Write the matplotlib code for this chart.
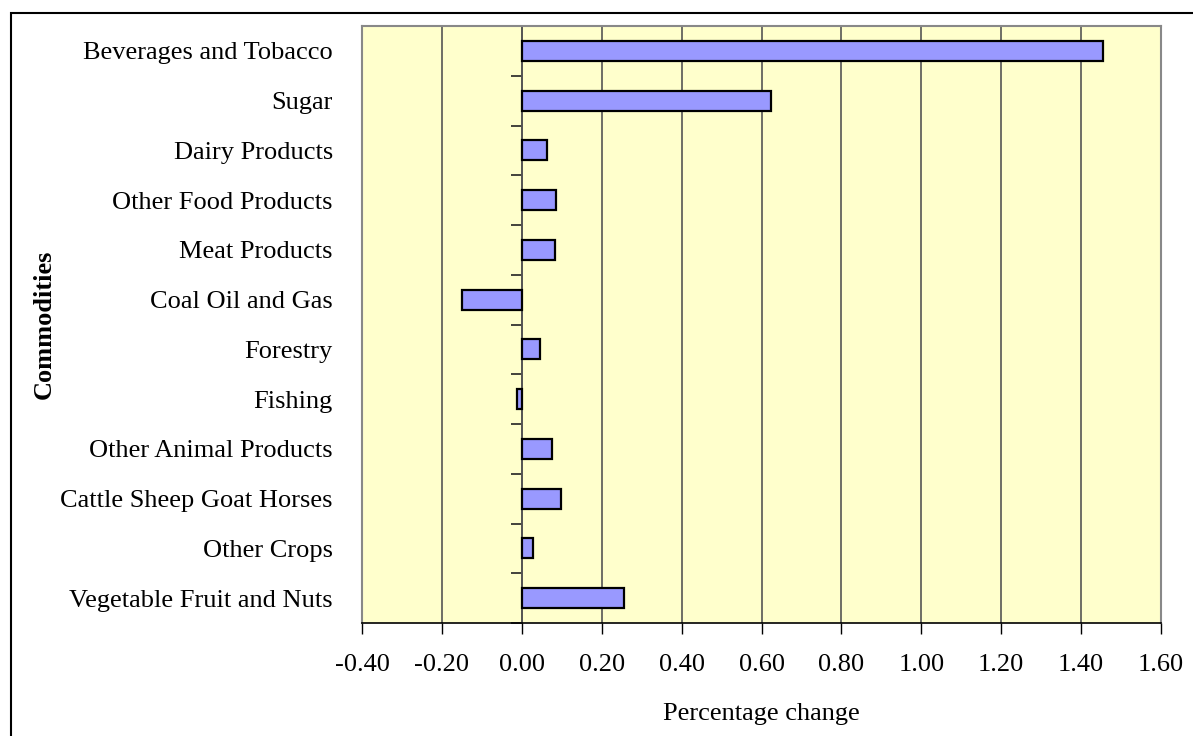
import numpy as np
import matplotlib.pyplot as plt
from matplotlib.patches import Rectangle

# categories listed bottom to top, as drawn on the value axis
commodities = [
    "Vegetable Fruit and Nuts",
    "Other Crops",
    "Cattle Sheep Goat Horses",
    "Other Animal Products",
    "Fishing",
    "Forestry",
    "Coal Oil and Gas",
    "Meat Products",
    "Other Food Products",
    "Dairy Products",
    "Sugar",
    "Beverages and Tobacco",
]
pct_change = [0.256, 0.028, 0.098, 0.076, -0.012, 0.045,
               -0.150, 0.082, 0.085, 0.064, 0.625, 1.455]
x_ticks = [-0.4, -0.2, 0.0, 0.2, 0.4, 0.6, 0.8, 1.0, 1.2, 1.4, 1.6]

plt.rcParams['font.family'] = ['Liberation Serif', 'DejaVu Serif']
FS = 19

fig = plt.figure(figsize=(11.93, 7.36), dpi=100)
ax = fig.add_axes([362 / 1193, 1 - 623 / 736, (1161 - 362) / 1193, (623 - 26) / 736])
ax.set_facecolor('#FFFFCC')

ypos = np.arange(len(commodities))
ax.barh(ypos, pct_change, height=0.4, color='#9999FF', edgecolor='black',
        linewidth=1.6, zorder=3)

ax.set_xlim(-0.4, 1.6)
ax.set_ylim(-0.5, len(commodities) - 0.5)
ax.set_xticks(x_ticks)
ax.set_xticklabels([f"{v:.2f}" for v in x_ticks], fontsize=FS)
ax.tick_params(axis='x', direction='out', length=8, width=1, pad=14, colors='black')
ax.xaxis.grid(True, color='#555555', linewidth=1.2, zorder=1)

ax.set_yticks(ypos)
ax.set_yticklabels(commodities, fontsize=FS)
ax.tick_params(axis='y', length=0, pad=21)
for lbl in ax.get_yticklabels():
    lbl.set_y(lbl.get_position()[1])

for side in ['top', 'right', 'left']:
    ax.spines[side].set_color('#888888')
    ax.spines[side].set_linewidth(1.5)
ax.spines['bottom'].set_color('black')
ax.spines['bottom'].set_linewidth(1.2)

# value axis crossing at zero with category separator ticks
sec = ax.secondary_yaxis(0.0, transform=ax.transData)
sec.set_yticks(np.arange(len(commodities) + 1) - 0.5)
sec.set_yticklabels([])
sec.tick_params(axis='y', direction='out', length=8, width=1.2, colors='#222222')
sec.spines['left'].set_color('#444444')
sec.spines['left'].set_linewidth(1.2)

fig.text(761 / 1193, 1 - 714 / 736, "Percentage change", ha='center', va='center',
         fontsize=FS)
fig.text(44 / 1193, 1 - 324 / 736, "Commodities", ha='center', va='center',
         rotation=90, fontsize=FS, fontweight='bold')

# outer chart border (right and bottom edges run off the image)
fig.add_artist(Rectangle((11 / 1193, -0.1), 1.2, 1 - 13 / 736 + 0.1,
                         transform=fig.transFigure, fill=False,
                         edgecolor='black', linewidth=1.5))

fig.savefig('out.png', dpi=100)
